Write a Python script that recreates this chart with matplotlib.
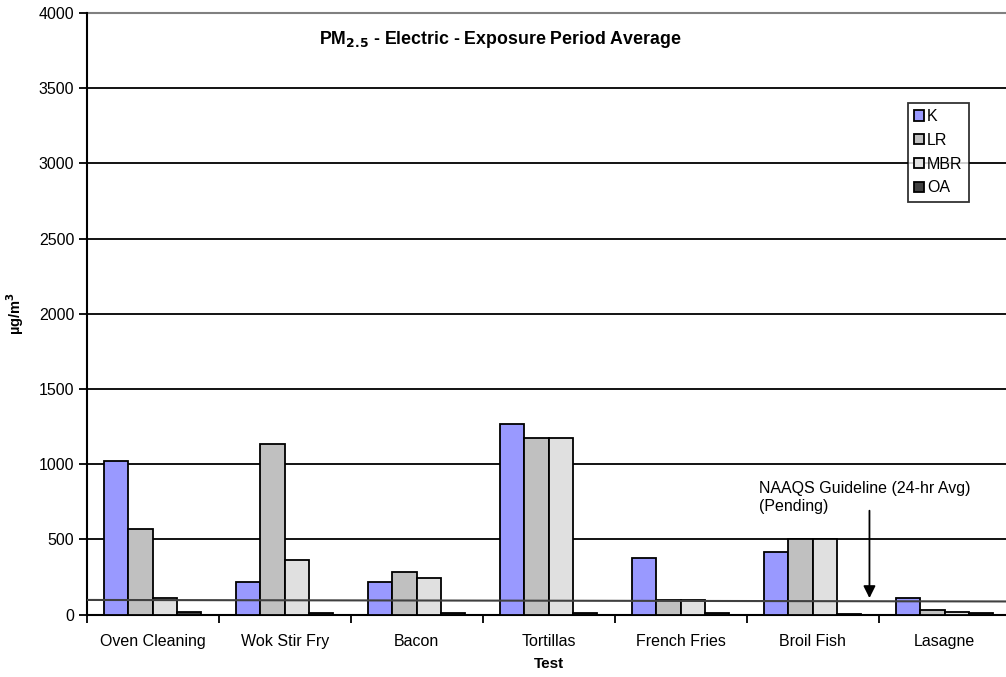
import matplotlib
matplotlib.use("Agg")
import matplotlib.pyplot as plt
import numpy as np

plt.rcParams['font.family'] = ['Liberation Sans', 'DejaVu Sans']

categories = ["Oven Cleaning", "Wok Stir Fry", "Bacon", "Tortillas",
              "French Fries", "Broil Fish", "Lasagne"]
series_names = ["K", "LR", "MBR", "OA"]
K = [1023, 215, 215, 1267, 374, 414, 108]
LR = [573, 1132, 281, 1172, 95, 505, 29]
MBR = [108, 361, 241, 1172, 95, 505, 20]
OA = [18, 8, 8, 8, 8, 5, 10]
series_values = [K, LR, MBR, OA]
colors = ["#9999FF", "#C0C0C0", "#E0E0E0", "#404040"]
y_ticks = [0, 500, 1000, 1500, 2000, 2500, 3000, 3500, 4000]
naaqs_left, naaqs_right = 98, 88
naaqs_arrow_cat = 5.43

fig = plt.figure(figsize=(10.06, 6.77), dpi=100)
ax = fig.add_axes([86.7/1006, 1-614.7/677, 924/1006, (614.7-13)/677])

x = np.arange(len(categories))
w = 0.184
for i, (name, vals, c) in enumerate(zip(series_names, series_values, colors)):
    ax.bar(x + (i-1.5)*w, vals, width=w, color=c, edgecolor="black",
           linewidth=1.3, label=name, zorder=3)

ax.set_xlim(-0.5, len(categories)-0.5)
ax.set_ylim(0, 4000)
ax.set_yticks(y_ticks)
ax.set_yticklabels([str(v) for v in y_ticks], fontsize=11.5)
for v in y_ticks[1:-1]:
    ax.axhline(v, color="black", lw=1.3, zorder=1)
ax.axhline(4000, color="#808080", lw=1.5, zorder=1, clip_on=False)

ax.set_xticks(x)
ax.set_xticklabels(categories, fontsize=11.5)
ax.set_xticks(np.arange(len(categories)+1)-0.5, minor=True)
ax.tick_params(axis='x', which='major', length=0, pad=14)
ax.tick_params(axis='x', which='minor', length=6, width=1.3, direction='out')
ax.tick_params(axis='y', length=6, width=1.3, direction='out', pad=3)

for s in ["top", "right"]:
    ax.spines[s].set_visible(False)
ax.spines["left"].set_linewidth(1.5)
ax.spines["bottom"].set_linewidth(1.5)

# NAAQS guideline line
ax.plot([-0.5, len(categories)-0.5], [naaqs_left, naaqs_right],
        color="#404040", lw=1.5, zorder=4)
ax.annotate("", xy=(naaqs_arrow_cat, 92), xytext=(naaqs_arrow_cat, 710),
            arrowprops=dict(arrowstyle="-|>", color="black", lw=1.3,
                            mutation_scale=18), zorder=5)
ax.text(4.59, 778, "NAAQS Guideline (24-hr Avg)\n(Pending)", fontsize=11.5,
        ha="left", va="center", linespacing=1.2)

ax.set_xlabel("Test", fontsize=11, fontweight="bold", labelpad=6)
ax.set_ylabel("µg/m$^\\mathbf{3}$", fontsize=10.5, fontweight="bold", labelpad=9)

fig.text(500/1006, 1-40/677,
         "PM$_{\\mathbf{2.5}}$ - Electric - Exposure Period Average",
         fontsize=12.8, fontweight="bold", ha="center", va="center")

leg = ax.legend(loc="upper left", bbox_to_anchor=((908-86.7)/924, (614.7-102.7)/601.7),
                fontsize=11.5, frameon=True, fancybox=False, borderaxespad=0,
                handlelength=0.6, handleheight=0.6, handletextpad=0.2,
                labelspacing=0.55, borderpad=0.4)
leg.get_frame().set_edgecolor("black")
leg.get_frame().set_linewidth(1.3)
leg.set_zorder(6)

fig.savefig("out.png", dpi=100)
